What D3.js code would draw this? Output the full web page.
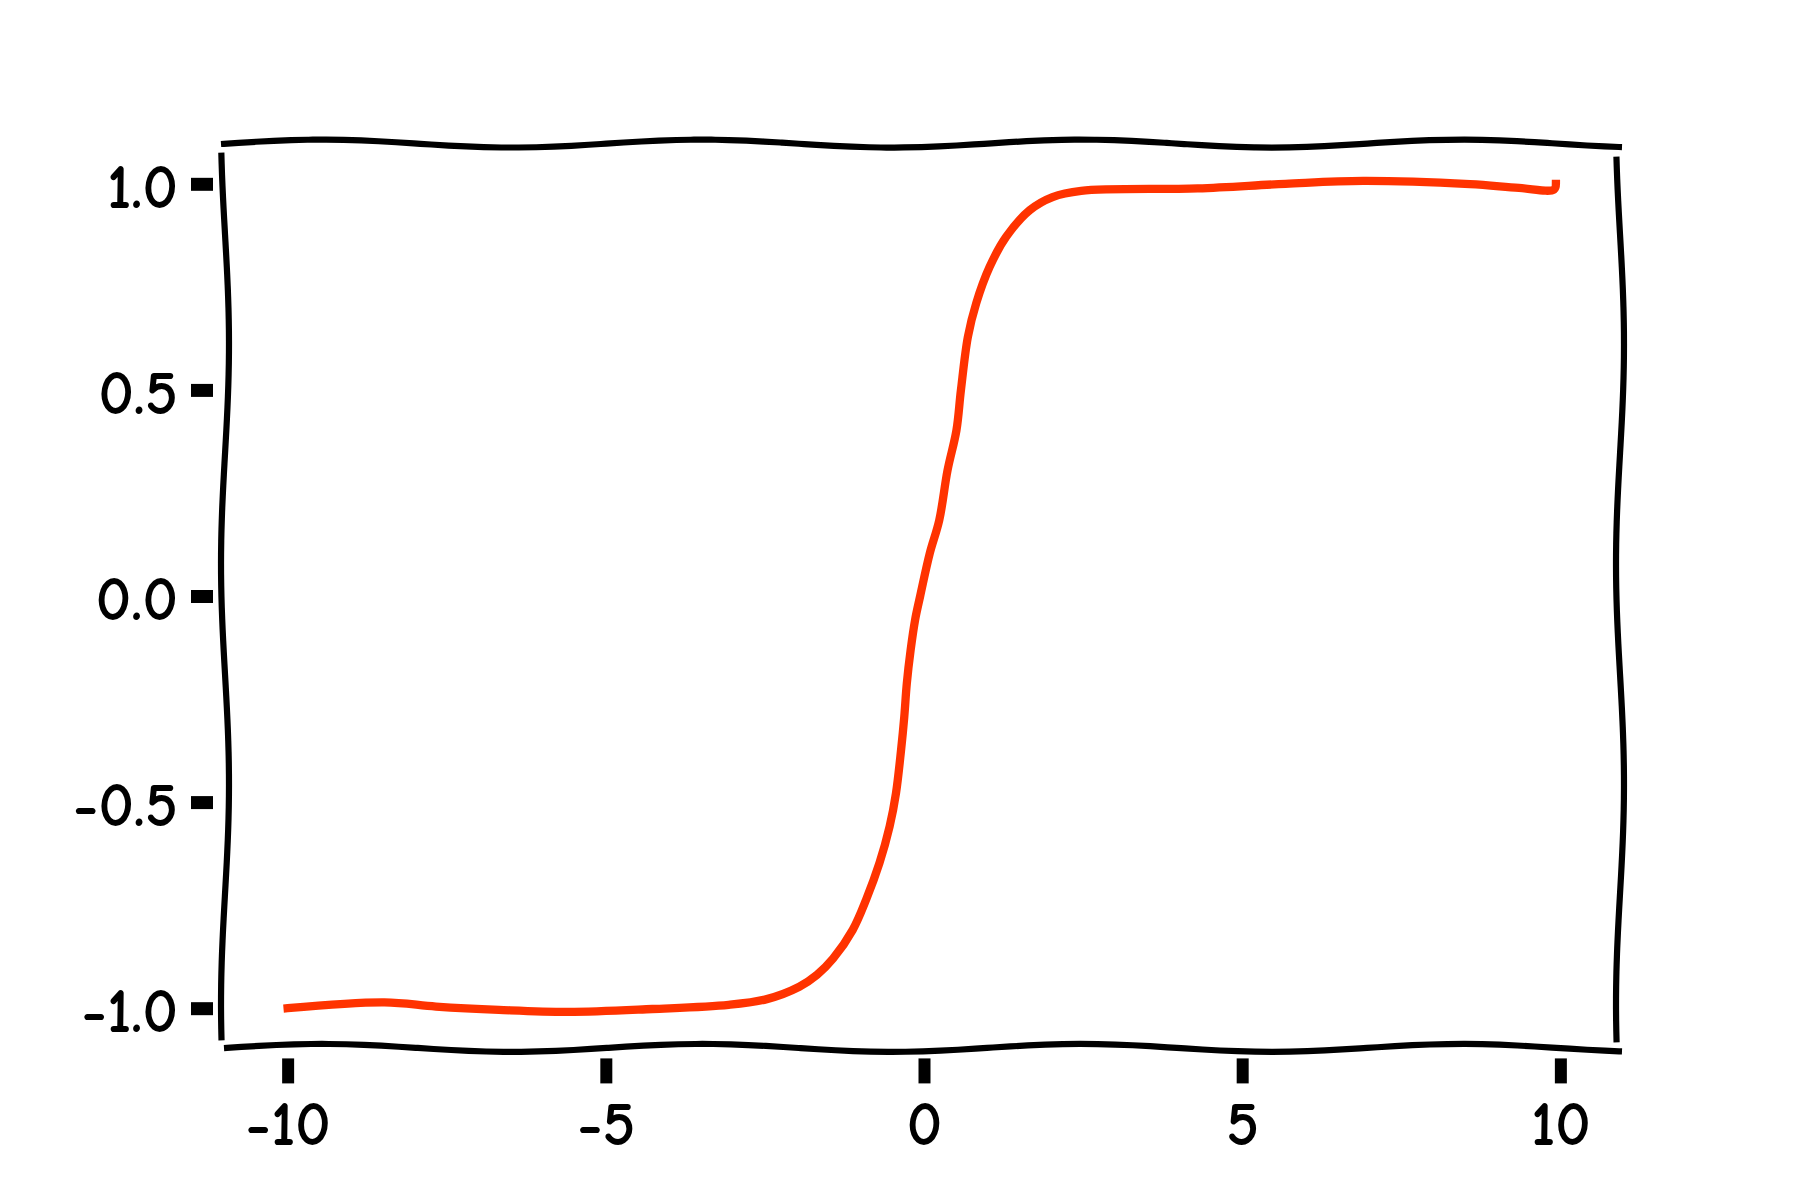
<!DOCTYPE html>
<html>
<head>
<meta charset="utf-8">
<script src="https://cdn.jsdelivr.net/npm/d3@7"></script>
<style>
  body { margin: 0; background: #fff; }
  #chart text { font-family: "Humor Sans", "Comic Neue", "Comic Sans MS", Lato, sans-serif; font-weight: bold; }
</style>
</head>
<body>
<svg id="chart"></svg>
<script>
var xValues = [-10, -8.48, -7.67, -6.68, -5.59, -4.27, -3.07, -2.47, -1.96, -1.68, -1.43, -1.12, -0.91, -0.70, -0.54, -0.44, -0.36, -0.31, -0.27, -0.21, -0.14, -0.06, 0.09, 0.24, 0.37, 0.51, 0.58, 0.69, 0.82, 1.03, 1.29, 1.66, 2.02, 2.47, 4.3, 5.68, 6.9, 8.58, 9.35, 9.9, 9.93];
var yValues = [-1.0, -0.986, -0.996, -1.004, -1.009, -1.002, -0.992, -0.978, -0.948, -0.919, -0.880, -0.81, -0.737, -0.648, -0.559, -0.478, -0.373, -0.293, -0.212, -0.131, -0.058, 0.0, 0.103, 0.184, 0.305, 0.402, 0.499, 0.629, 0.710, 0.798, 0.871, 0.936, 0.968, 0.983, 0.989, 1.0, 1.007, 0.999, 0.990, 0.986, 1.0];

var xTicks = [-10, -5, 0, 5, 10];
var xTickLabels = ["-10", "-5", "0", "5", "10"];
var yTicks = [-1, -0.5, 0, 0.5, 1];
var yTickLabels = ["-1.0", "-0.5", "0.0", "0.5", "1.0"];

var width = 1800, height = 1200;

var svg = d3.select("#chart")
    .attr("width", width)
    .attr("height", height);

var x = d3.scaleLinear().domain([-11, 11]).range([224, 1624]);
var y = d3.scaleLinear().domain([-1.1, 1.1]).range([1049.4, 142.6]);

// sketchy line, like matplotlib's xkcd path effect
function wiggle(x0, y0, x1, y1, amp, period, phaseAt) {
  var n = 80, pts = [];
  var len = Math.hypot(x1 - x0, y1 - y0);
  var nx = -(y1 - y0) / len, ny = (x1 - x0) / len;
  for (var i = 0; i <= n; i++) {
    var t = i / n;
    var px = x0 + (x1 - x0) * t, py = y0 + (y1 - y0) * t;
    var s = (x1 !== x0 ? px : py) - phaseAt;
    var off = amp * Math.cos(2 * Math.PI * s / period);
    pts.push([px + nx * off, py + ny * off]);
  }
  return pts;
}

var x0 = x.range()[0], x1 = x.range()[1];
var yb = y.range()[0], yt = y.range()[1];
var spines = [
  wiggle(x0 - 3, yt + 1, x1 - 2, yt + 1, -4, 380, 322),     // top
  wiggle(x0, yb - 1.5, x1 - 2, yb - 1.5, -4, 380, 322),     // bottom
  wiggle(x0 + 1, yt + 10, x0 + 1, yb - 9, -4, 440, 344),    // left
  wiggle(x1 - 4, yt + 14, x1 - 4, yb - 7, -4, 440, 344)     // right
];

var spineLine = d3.line().curve(d3.curveBasis);
svg.append("g")
    .selectAll("path")
    .data(spines)
  .enter().append("path")
    .attr("d", spineLine)
    .attr("fill", "none")
    .attr("stroke", "#000")
    .attr("stroke-width", 6.2)
    .attr("stroke-linecap", "butt");

// y axis
var yAxis = svg.append("g")
    .attr("transform", "translate(" + x0 + ",0)")
    .call(d3.axisLeft(y)
      .tickValues(yTicks)
      .tickFormat((d, i) => yTickLabels[i])
      .tickSize(33)
      .tickPadding(13));
yAxis.select(".domain").remove();
yAxis.selectAll(".tick line")
    .attr("x1", -11)
    .attr("x2", -33)
    .attr("stroke", "#000")
    .attr("stroke-width", 13);
yAxis.selectAll(".tick text")
    .attr("dy", "0.38em")
    .attr("fill", "#000")
    .attr("font-size", 62);
yAxis.attr("font-family", null);

// x axis
var xAxis = svg.append("g")
    .attr("transform", "translate(0," + yb + ")")
    .call(d3.axisBottom(x)
      .tickValues(xTicks)
      .tickFormat((d, i) => xTickLabels[i])
      .tickSize(34)
      .tickPadding(18));
xAxis.select(".domain").remove();
xAxis.selectAll(".tick line")
    .attr("y1", 9)
    .attr("y2", 34)
    .attr("stroke", "#000")
    .attr("stroke-width", 12);
xAxis.selectAll(".tick text")
    .attr("fill", "#000")
    .attr("font-size", 62);
xAxis.attr("font-family", null);

// the curve
var points = xValues.map((d, i) => [d, yValues[i]]);
var line = d3.line()
    .x(d => x(d[0]))
    .y(d => y(d[1]))
    .curve(d3.curveCatmullRom.alpha(0.5));

svg.append("path")
    .datum(points)
    .attr("d", line)
    .attr("fill", "none")
    .attr("stroke", "#ff3300")
    .attr("stroke-width", 8.3)
    .attr("stroke-linecap", "square")
    .attr("stroke-linejoin", "round");
</script>
</body>
</html>
